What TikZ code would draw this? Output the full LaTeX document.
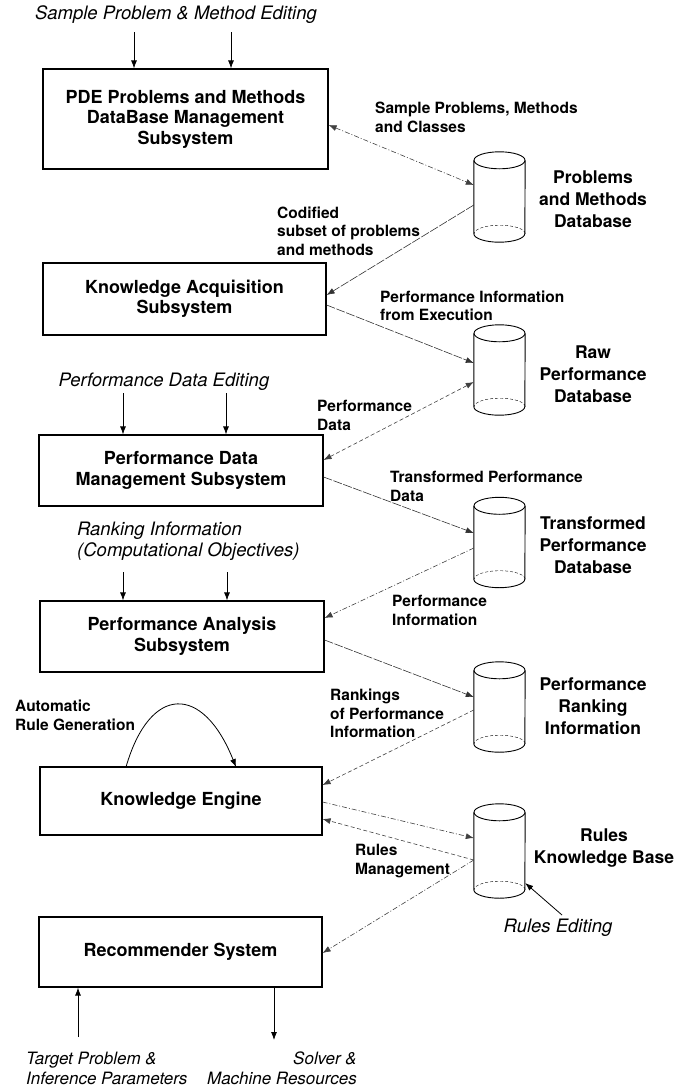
\documentclass[tikz,border=0pt]{standalone}
\usepackage{fontspec}
\setmainfont{TeX Gyre Heros}
\usetikzlibrary{arrows.meta}
\newcommand\drawcyl[1]{%
  \draw[cylline] ([yshift=-8.5pt]#1.north) ellipse [x radius=25.5pt, y radius=8.5pt];
  \draw[cylline] ([yshift=-8.5pt]#1.north west) -- ([yshift=8.5pt]#1.south west)
     arc[start angle=180, end angle=360, x radius=25.5pt, y radius=8.5pt]
     -- ([yshift=-8.5pt]#1.north east);
  \draw[cylline, densely dashed, thin] ([yshift=8.5pt]#1.south east)
     arc[start angle=0, end angle=180, x radius=25.5pt, y radius=8.5pt];
}
\begin{document}
\begin{tikzpicture}[x=1pt,y=-1pt,
  box/.style={draw, line width=1.2pt, align=center, inner sep=0pt,
    font=\bfseries\fontsize{18}{20.5}\selectfont},
  lab/.style={font=\bfseries\fontsize{15.5}{18.5}\selectfont, align=left, inner sep=0pt, anchor=west},
  dblab/.style={font=\bfseries\fontsize{17.5}{22}\selectfont, align=center, inner sep=0pt},
  itl/.style={font=\itshape\fontsize{18.5}{21}\selectfont, inner sep=0pt},
  itls/.style={font=\itshape\fontsize{17}{20}\selectfont, inner sep=0pt},
  cylbox/.style={minimum width=51pt, minimum height=90pt, inner sep=0pt, draw=none},
  cylline/.style={line width=0.9pt},
  tip/.style={-{Latex[length=8pt,width=6pt]}},
  dtip/.style={{Latex[length=8pt,width=6pt]}-{Latex[length=8pt,width=6pt]}},
  arr/.style={tip, line width=0.8pt},
  connA/.style={line width=0.6pt, black!75, dash pattern=on 5pt off 2pt on 1pt off 2pt},
  connB/.style={line width=0.6pt, black!80, dash pattern=on 9pt off 1.5pt},
  connC/.style={line width=0.6pt, black!75, dash pattern=on 4pt off 2.5pt},
]
\path[use as bounding box] (0,0) rectangle (692,1087);

% boxes
\node[box, minimum width=285pt, minimum height=100pt] (b1) at (185.5,119)
  {PDE Problems and Methods\\DataBase Management\\Subsystem};
\node[box, minimum width=283pt, minimum height=72pt] (b2) at (184.5,299)
  {Knowledge Acquisition\\Subsystem};
\node[box, minimum width=284pt, minimum height=71pt] (b3) at (181,470.5)
  {Performance Data\\Management Subsystem};
\node[box, minimum width=284pt, minimum height=71pt] (b4) at (182,636.5)
  {Performance Analysis\\Subsystem};
\node[box, minimum width=282pt, minimum height=68pt] (b5) at (181,801)
  {Knowledge Engine};
\node[box, minimum width=283pt, minimum height=70pt] (b6) at (180.5,952)
  {Recommender System};

% cylinders
\node[cylbox] (c1) at (499.5,197) {};
\node[cylbox] (c2) at (499.5,370) {};
\node[cylbox] (c3) at (499.5,542.5) {};
\node[cylbox] (c4) at (499.5,707) {};
\node[cylbox, minimum height=94pt] (c5) at (499.5,851) {};
\drawcyl{c1}\drawcyl{c2}\drawcyl{c3}\drawcyl{c4}\drawcyl{c5}

% database labels
\node[dblab] (d1) at (593,199.5) {Problems\\and Methods\\Database};
\node[dblab] (d2) at (593,374) {Raw\\Performance\\Database};
\node[dblab] (d3) at (593,545) {Transformed\\Performance\\Database};
\node[dblab] (d4) at (593,706.5) {Performance\\Ranking\\Information};
\node[dblab] (d5) at (604,848.5) {Rules\\Knowledge Base};

% connector labels
\node[lab] (l1) at (375,117.5) {Sample Problems, Methods\\and Classes};
\node[lab] (l2) at (277,231) {Codified\\subset of problems\\and methods};
\node[lab] (l3) at (380,306) {Performance Information\\from Execution};
\node[lab] (l4) at (317,415.5) {Performance\\Data};
\node[lab] (l5) at (390,486.5) {Transformed Performance\\Data};
\node[lab] (l6) at (392,610.5) {Performance\\Information};
\node[lab] (l7) at (330,713.5) {Rankings\\of Performance\\Information};
\node[lab] (l8) at (355,861) {Rules\\Management};
\node[lab] (l9) at (15,715.5) {Automatic\\Rule Generation};

% italic inputs
\node[itl] (i1) at (176,15) {Sample Problem \& Method Editing};
\node[itl] (i2) at (164,382) {Performance Data Editing};
\node[itl, align=left, anchor=west] (i3) at (77,541.5) {Ranking Information\\(Computational Objectives)};
\node[itl] (i4) at (558,928) {Rules Editing};
\node[itls, align=left, anchor=west] (i5) at (26,1068) {Target Problem \&\\Inference Parameters};
\node[itls, align=right, anchor=east] (i6) at (357,1068) {Solver \&\\Machine Resources};

% input arrows
\coordinate (a1) at (134,32);
\coordinate (a2) at (231,32);
\coordinate (a3) at (123,393);
\coordinate (a4) at (226,393);
\coordinate (a5) at (123,572);
\coordinate (a6) at (227,572);
\coordinate (a7) at (78,1037);
\coordinate (a8) at (274,1040);
\coordinate (a9) at (562,915);
\draw[arr] (a1) -- (a1 |- b1.north);
\draw[arr] (a2) -- (a2 |- b1.north);
\draw[arr] (a3) -- (a3 |- b3.north);
\draw[arr] (a4) -- (a4 |- b3.north);
\draw[arr] (a5) -- (a5 |- b4.north);
\draw[arr] (a6) -- (a6 |- b4.north);
\draw[arr] (a7) -- (a7 |- b6.south);
\draw[arr] (a8 |- b6.south) -- (a8);
\draw[arr] (a9) -- ([yshift=-32pt]c5.east);

% automatic rule generation loop
\coordinate (g1) at (126,767);
\coordinate (g2) at (236,767);
\draw[arr] (g1) .. controls (150,684) and (203,684) .. (g2);

% connectors
\draw[connA, dtip] ([yshift=-6pt]b1.east) -- ([yshift=12pt]c1.west);
\draw[connB, tip] ([yshift=-8pt]c1.west) -- ([yshift=4pt]b2.east);
\draw[connB, tip] ([yshift=-6pt]b2.east) -- ([yshift=7pt]c2.west);
\draw[connC, dtip] ([yshift=10.5pt]b3.east) -- ([yshift=-12pt]c2.west);
\draw[connB, tip] ([yshift=-6.5pt]b3.east) -- ([yshift=9.5pt]c3.west);
\draw[connA, tip] ([yshift=-5.5pt]c3.west) -- ([yshift=18.5pt]b4.east);
\draw[connB, tip] ([yshift=-3.5pt]b4.east) -- ([yshift=10pt]c4.west);
\draw[connC, tip] ([yshift=-3pt]c4.west) -- ([yshift=16pt]b5.east);
\draw[connA, tip] ([yshift=-1pt]b5.east) -- ([yshift=13pt]c5.west);
\draw[connC, tip] ([yshift=-9pt]c5.west) -- ([yshift=-18pt]b5.east);
\draw[connA, tip] ([yshift=-9pt]c5.west) -- ([yshift=-1pt]b6.east);
\end{tikzpicture}
\end{document}
